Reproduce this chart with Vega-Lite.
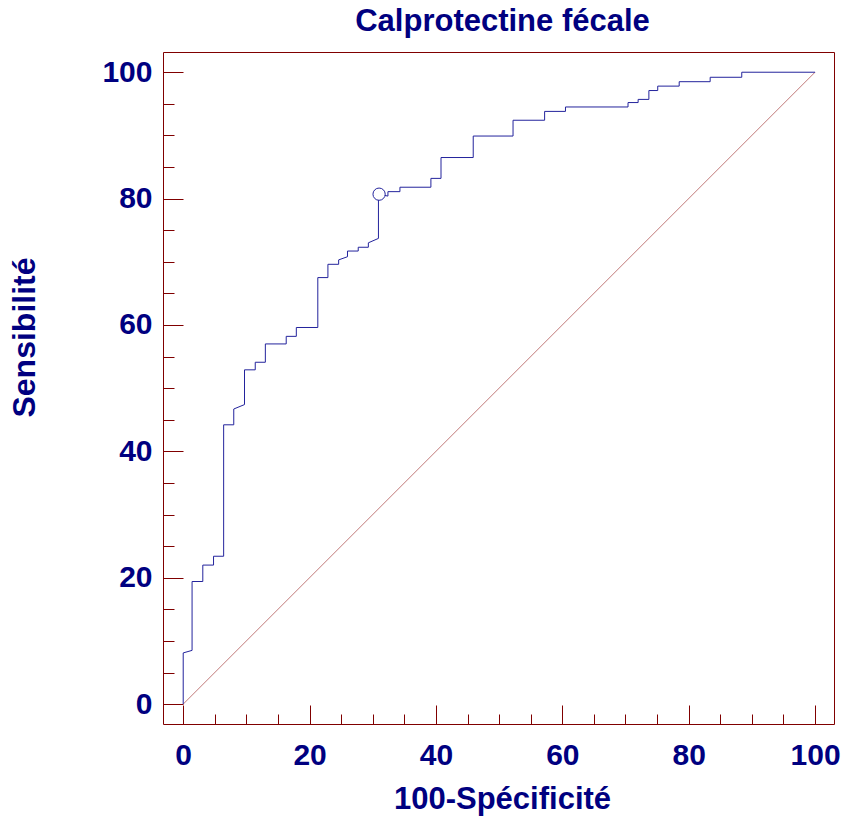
{
  "$schema": "https://vega.github.io/schema/vega-lite/v6.json",
  "autosize": "none",
  "width": 671,
  "height": 672,
  "padding": {"left": 163, "top": 52, "right": 11, "bottom": 94},
  "background": "white",
  "title": {
    "text": "Calprotectine fécale",
    "font": "Liberation Sans",
    "fontSize": 31,
    "fontWeight": "bold",
    "color": "#000080",
    "baseline": "alphabetic",
    "offset": 18,
    "dy": 28,
    "dx": 4,
    "anchor": "middle"
  },
  "datasets": {
    "roc": [
      {"fpr": 0, "tpr": 0}, {"fpr": 0, "tpr": 8.1}, {"fpr": 1.4, "tpr": 8.5}, {"fpr": 1.4, "tpr": 19.4},
      {"fpr": 3.1, "tpr": 19.4}, {"fpr": 3.1, "tpr": 22.0}, {"fpr": 4.8, "tpr": 22.0}, {"fpr": 4.8, "tpr": 23.4},
      {"fpr": 6.4, "tpr": 23.4}, {"fpr": 6.4, "tpr": 44.2}, {"fpr": 8.0, "tpr": 44.2}, {"fpr": 8.0, "tpr": 46.7},
      {"fpr": 9.7, "tpr": 47.4}, {"fpr": 9.7, "tpr": 52.9}, {"fpr": 11.4, "tpr": 52.9}, {"fpr": 11.4, "tpr": 54.1},
      {"fpr": 13.0, "tpr": 54.1}, {"fpr": 13.0, "tpr": 57.0}, {"fpr": 16.3, "tpr": 57.0}, {"fpr": 16.3, "tpr": 58.2},
      {"fpr": 17.9, "tpr": 58.2}, {"fpr": 17.9, "tpr": 59.6}, {"fpr": 21.3, "tpr": 59.6}, {"fpr": 21.3, "tpr": 67.5},
      {"fpr": 22.9, "tpr": 67.5}, {"fpr": 22.9, "tpr": 69.6}, {"fpr": 24.6, "tpr": 69.6}, {"fpr": 24.6, "tpr": 70.3},
      {"fpr": 26.0, "tpr": 70.8}, {"fpr": 26.0, "tpr": 71.7}, {"fpr": 27.7, "tpr": 71.7}, {"fpr": 27.7, "tpr": 72.3},
      {"fpr": 29.3, "tpr": 72.3}, {"fpr": 29.3, "tpr": 73.0}, {"fpr": 30.9, "tpr": 73.7}, {"fpr": 30.9, "tpr": 80.7},
      {"fpr": 32.4, "tpr": 80.4}, {"fpr": 32.4, "tpr": 81.1}, {"fpr": 34.3, "tpr": 81.1}, {"fpr": 34.3, "tpr": 81.8},
      {"fpr": 39.2, "tpr": 81.8}, {"fpr": 39.2, "tpr": 83.2}, {"fpr": 40.8, "tpr": 83.2}, {"fpr": 40.8, "tpr": 86.5},
      {"fpr": 45.9, "tpr": 86.5}, {"fpr": 45.9, "tpr": 89.9}, {"fpr": 52.2, "tpr": 89.9}, {"fpr": 52.2, "tpr": 92.4},
      {"fpr": 57.2, "tpr": 92.4}, {"fpr": 57.2, "tpr": 93.8}, {"fpr": 60.5, "tpr": 93.8}, {"fpr": 60.5, "tpr": 94.5},
      {"fpr": 70.4, "tpr": 94.5}, {"fpr": 70.4, "tpr": 95.2}, {"fpr": 72.0, "tpr": 95.2}, {"fpr": 72.0, "tpr": 95.7},
      {"fpr": 73.7, "tpr": 95.7}, {"fpr": 73.7, "tpr": 97.1}, {"fpr": 75.1, "tpr": 97.1}, {"fpr": 75.1, "tpr": 97.8},
      {"fpr": 78.5, "tpr": 97.8}, {"fpr": 78.5, "tpr": 98.5}, {"fpr": 83.4, "tpr": 98.5}, {"fpr": 83.4, "tpr": 99.2},
      {"fpr": 88.4, "tpr": 99.2}, {"fpr": 88.4, "tpr": 100}, {"fpr": 100, "tpr": 100}
    ],
    "diag": [{"fpr": 0, "tpr": 0}, {"fpr": 100, "tpr": 100}],
    "cut": [{"fpr": 31.0, "tpr": 80.7}]
  },
  "layer": [
    {
      "data": {"name": "diag"},
      "mark": {"type": "line", "color": "#c07878", "strokeWidth": 1},
      "encoding": {
        "x": {"field": "fpr", "type": "quantitative", "scale": {"domain": [-3.2, 103.0], "nice": false, "zero": false},
          "axis": {"orient": "bottom", "values": [0,5,10,15,20,25,30,35,40,45,50,55,60,65,70,75,80,85,90,95,100], "tickSize": -10, "labels": false, "domain": false, "grid": false, "title": null, "tickColor": "#800000", "tickWidth": 1}},
        "y": {"field": "tpr", "type": "quantitative", "scale": {"domain": [-3.15, 103.2], "nice": false, "zero": false},
          "axis": {"orient": "left", "values": [0,5,10,15,20,25,30,35,40,45,50,55,60,65,70,75,80,85,90,95,100], "tickSize": -11, "labels": false, "domain": false, "grid": false, "title": null, "tickColor": "#800000", "tickWidth": 1}}
      }
    },
    {
      "data": {"name": "roc"},
      "mark": {"type": "line", "color": "#23239c", "strokeWidth": 1, "interpolate": "linear"},
      "encoding": {
        "order": {"field": "idx"},
        "x": {"field": "fpr", "type": "quantitative",
          "axis": {"orient": "bottom", "values": [0,20,40,60,80,100], "ticks": false, "tickSize": 0, "labels": true, "domain": false, "grid": false,
            "labelFont": "Liberation Sans", "labelFontSize": 30, "labelFontWeight": "bold", "labelColor": "#000080", "labelPadding": 16,
            "title": "100-Spécificité", "titleFont": "Liberation Sans", "titleFontSize": 31, "titleFontWeight": "bold", "titleColor": "#000080",
            "titleBaseline": "alphabetic", "titleX": 339, "titleY": 84, "titleAlign": "center", "titleAnchor": null}},
        "y": {"field": "tpr", "type": "quantitative",
          "axis": {"orient": "left", "values": [0,20,40,60,80,100], "ticks": false, "tickSize": 0, "labels": true, "domain": false, "grid": false,
            "labelFont": "Liberation Sans", "labelFontSize": 30, "labelFontWeight": "bold", "labelColor": "#000080", "labelPadding": 11,
            "title": "Sensibilité", "titleFont": "Liberation Sans", "titleFontSize": 32, "titleFontWeight": "bold", "titleColor": "#000080",
            "titleBaseline": "alphabetic", "titleAngle": -90, "titleX": -129, "titleY": 285, "titleAlign": "center", "titleAnchor": null}}
      }
    },
    {
      "data": {"name": "cut"},
      "mark": {"type": "point", "shape": "circle", "size": 150, "filled": true, "fill": "white", "stroke": "#23239c", "strokeWidth": 1, "opacity": 1},
      "encoding": {
        "x": {"field": "fpr", "type": "quantitative",
          "axis": {"orient": "bottom", "values": [0,20,40,60,80,100], "tickSize": -19, "labels": false, "domain": false, "grid": false, "title": null, "tickColor": "#800000", "tickWidth": 1}},
        "y": {"field": "tpr", "type": "quantitative",
          "axis": {"orient": "left", "values": [0,20,40,60,80,100], "tickSize": -20, "labels": false, "domain": false, "grid": false, "title": null, "tickColor": "#800000", "tickWidth": 1}}
      }
    }
  ],
  "resolve": {"axis": {"x": "independent", "y": "independent"}},
  "config": {
    "view": {"stroke": "#800000", "strokeWidth": 1},
    "axis": {"labelFlush": false, "labelOverlap": false}
  }
}
